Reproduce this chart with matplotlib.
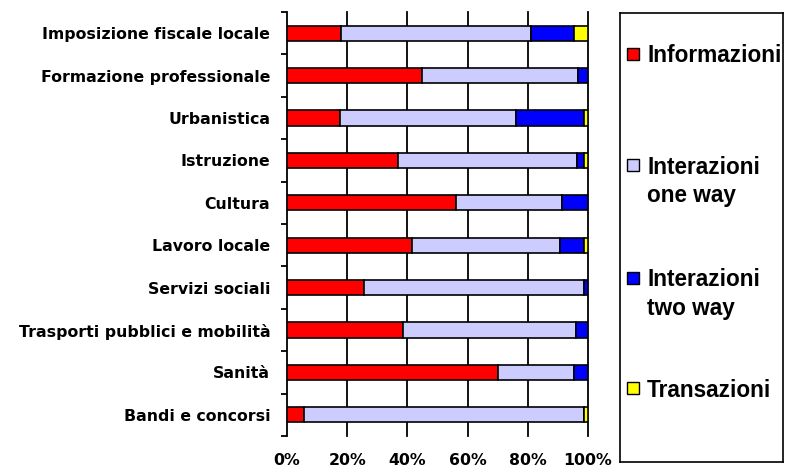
import matplotlib.pyplot as plt
import numpy as np

categories = ['Imposizione fiscale locale', 'Formazione professionale', 'Urbanistica',
              'Istruzione', 'Cultura', 'Lavoro locale', 'Servizi sociali',
              'Trasporti pubblici e mobilità', 'Sanità', 'Bandi e concorsi']
informazioni = [18, 45, 17.5, 37, 56, 41.5, 25.5, 38.5, 70, 5.5]
one_way = [63, 51.6, 58.5, 59.5, 35.3, 49.2, 73.2, 57.5, 25.3, 93.2]
two_way = [14.5, 3.4, 22.7, 2.2, 8.7, 8, 1.3, 4, 4.7, 0]
transazioni = [4.5, 0, 1.3, 1.3, 0, 1.3, 0, 0, 0, 1.3]
series_names = ['Informazioni', 'Interazioni\none way', 'Interazioni\ntwo way', 'Transazioni']
colors = ['#ff0000', '#ccccff', '#0000ff', '#ffff00']
xticks = [0, 20, 40, 60, 80, 100]

fig = plt.figure(figsize=(7.85, 4.68), dpi=100)
ax = fig.add_axes([287 / 785, 32 / 468, 301 / 785, 424 / 468])

y = np.arange(len(categories))
left = np.zeros(len(categories))
for vals, c in zip([informazioni, one_way, two_way, transazioni], colors):
    ax.barh(y, vals, left=left, height=0.36, color=c, edgecolor='black',
            linewidth=1.2, zorder=3)
    left += np.array(vals)

ax.set_xlim(0, 100)
ax.set_ylim(len(categories) - 0.5, -0.5)

# vertical grid only, drawn behind the bars
for v in xticks[1:]:
    ax.axvline(v, color='black', lw=1.3, zorder=1, clip_on=False)

for s in ['top', 'right', 'bottom']:
    ax.spines[s].set_visible(False)
ax.spines['left'].set_linewidth(1.3)

tick_font = dict(family='DejaVu Sans', weight='bold', size=11.3)
ax.set_yticks(y, categories, **tick_font)
ax.set_yticks(np.arange(-0.5, len(categories)), minor=True)
ax.tick_params(axis='y', which='major', length=0, pad=12)
ax.tick_params(axis='y', which='minor', length=4, width=1.3, direction='out')
ax.set_xticks(xticks, [f'{v}%' for v in xticks], **tick_font)
ax.tick_params(axis='x', length=0, pad=12)

# legend panel on the right
lax = fig.add_axes([620 / 785, 6 / 468, 163 / 785, 449 / 468])
lax.set_xlim(0, 1)
lax.set_ylim(0, 1)
lax.set_xticks([])
lax.set_yticks([])
for s in lax.spines.values():
    s.set_linewidth(1.2)
baselines = [0.893, 0.645, 0.394, 0.148]
for name, c, yb in zip(series_names, colors, baselines):
    lax.plot(0.077, yb + 0.016, marker='s', markersize=8, markerfacecolor=c,
             markeredgecolor='black', markeredgewidth=1.0, linestyle='none')
    lax.text(0.166, yb + 0.037, name, family='Liberation Sans', weight='bold',
             size=16.3, va='top', ha='left', linespacing=1.3)

fig.savefig('out.png', dpi=100)
